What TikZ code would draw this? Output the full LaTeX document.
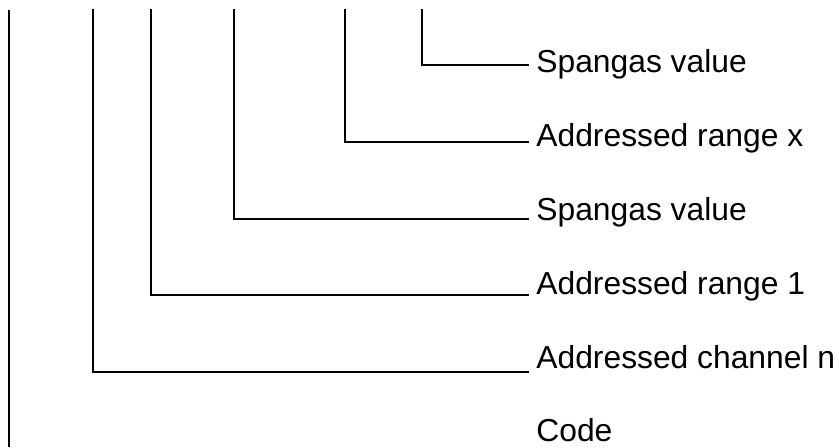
\documentclass[tikz,border=0pt]{standalone}
\usepackage{fontspec}
\setmainfont{Liberation Sans}
\usetikzlibrary{calc}
\begin{document}
\begin{tikzpicture}[x=0.5pt,y=-0.5pt,
  lab/.style={anchor=base west,inner sep=0pt,font=\fontsize{15.9}{19}\selectfont},
  wire/.style={line width=1pt,line cap=rect}]
\useasboundingbox (0,0) rectangle (839,447);
\node[lab] (l1) at (536,72) {Spangas value};
\node[lab] (l2) at (536,146) {Addressed range x};
\node[lab] (l3) at (536,220) {Spangas value};
\node[lab] (l4) at (536,294) {Addressed range 1};
\node[lab] (l5) at (536,368) {Addressed channel n};
\node[lab] (l6) at (536,441) {Code};
\coordinate (t0) at (9,10);
\coordinate (b0) at (9,447);
\coordinate (t1) at (93,10);
\coordinate (t2) at (151,10);
\coordinate (t3) at (234,10);
\coordinate (t4) at (345,10);
\coordinate (t5) at (422,10);
\draw[line width=1.3pt] (t0) -- (b0);
\draw[wire] (t5) |- ($(l1.base west)+(-8,-7)$);
\draw[wire] (t4) |- ($(l2.base west)+(-8,-4)$);
\draw[wire] (t3) |- ($(l3.base west)+(-8,-1)$);
\draw[wire] (t2) |- ($(l4.base west)+(-8,1)$);
\draw[wire] (t1) |- ($(l5.base west)+(-8,4)$);
\end{tikzpicture}
\end{document}
